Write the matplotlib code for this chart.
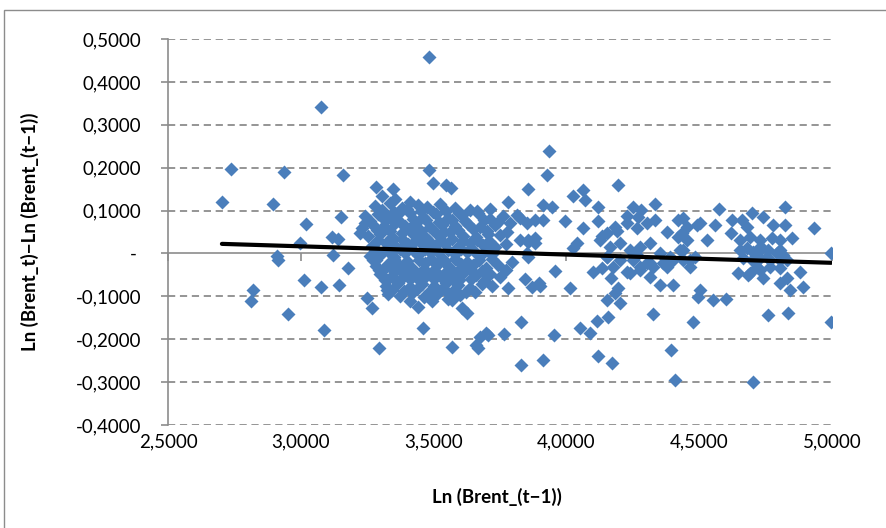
import numpy as np
import matplotlib
matplotlib.use("Agg")
import matplotlib.pyplot as plt
from matplotlib.ticker import FuncFormatter, FixedLocator
from matplotlib.patches import Rectangle

plt.rcParams['font.family'] = ['Lato', 'DejaVu Sans']

# isolated points, left part of the cloud
left_x = [2.703, 2.737, 2.897, 2.937, 3.076, 3.159, 3.020, 3.152,
          2.997, 3.118, 3.140, 2.909, 2.915, 3.123, 3.178, 3.012,
          3.075, 3.145, 2.821, 2.813, 2.951, 3.089, 3.248, 3.267,
          3.296, 3.242, 3.283, 3.298, 3.223, 3.272, 3.295, 3.325,
          3.325, 3.347]
left_y = [0.119, 0.196, 0.116, 0.191, 0.341, 0.183, 0.069, 0.086,
          0.024, 0.038, 0.034, -0.007, -0.016, -0.004, -0.035, -0.063,
          -0.078, -0.073, -0.085, -0.112, -0.141, -0.178, -0.104, -0.128,
          -0.220, 0.071, 0.155, 0.090, 0.048, -0.015, -0.038, -0.062,
          -0.085, 0.150]

# upper edge
top_x = [3.484, 3.483, 3.498, 3.547, 3.566, 3.933, 3.927, 3.856,
         3.781, 3.913, 3.945, 4.025, 4.063, 4.070, 4.119, 4.195,
         4.251, 4.281, 4.334, 4.575, 4.824, 4.933, 4.997]
top_y = [0.457, 0.195, 0.164, 0.160, 0.152, 0.240, 0.183, 0.150,
         0.120, 0.113, 0.108, 0.134, 0.148, 0.125, 0.108, 0.159,
         0.108, 0.101, 0.115, 0.104, 0.108, 0.060, 0.002]

# lower edge
low_x = [3.460, 3.442, 3.570, 3.668, 3.675, 3.705, 3.766, 3.828,
         3.828, 3.911, 3.952, 4.052, 4.089, 4.116, 4.119, 4.172,
         4.394, 4.409, 4.703, 4.997, 4.477, 4.760, 4.835, 4.327,
         4.157, 4.202, 4.153, 3.626, 3.607, 3.570, 3.698, 3.660,
         3.781, 3.845, 3.871, 3.896, 4.014, 3.957, 3.796, 4.101,
         4.134, 4.168, 4.183, 4.195, 4.315, 4.353, 4.402, 4.240,
         4.278, 4.315, 4.504, 4.553, 4.602, 4.496, 4.805, 4.842,
         4.891, 4.880]
low_y = [-0.174, -0.125, -0.217, -0.220, -0.195, -0.190, -0.188, -0.161,
         -0.260, -0.248, -0.191, -0.174, -0.186, -0.157, -0.239, -0.255,
         -0.225, -0.295, -0.300, -0.159, -0.159, -0.143, -0.139, -0.141,
         -0.148, -0.115, -0.108, -0.139, -0.127, -0.108, -0.186, -0.213,
         -0.081, -0.059, -0.078, -0.069, -0.081, -0.040, -0.020, -0.043,
         -0.033, -0.057, -0.092, -0.080, -0.054, -0.073, -0.073, -0.045,
         -0.031, -0.022, -0.085, -0.108, -0.106, -0.101, -0.069, -0.085,
         -0.078, -0.043]

# dense block around 3.3 - 3.9
mid_x = [3.306, 3.355, 3.411,
         3.280, 3.336, 3.381, 3.442, 3.476, 3.524, 3.581, 3.637, 3.713,
         3.242, 3.291, 3.329, 3.366, 3.411, 3.460, 3.509, 3.555, 3.607, 3.668, 3.713, 3.762, 3.815,
         3.231, 3.268, 3.314, 3.355, 3.393, 3.434, 3.487, 3.532, 3.581, 3.630, 3.675, 3.732, 3.788, 3.852,
         3.253, 3.298, 3.344, 3.381, 3.427, 3.472, 3.517, 3.562, 3.611, 3.660, 3.705, 3.750, 3.826, 3.882,
         3.268, 3.321, 3.359, 3.404, 3.449, 3.498, 3.543, 3.589, 3.637, 3.686, 3.732, 3.773, 3.856,
         3.261, 3.306, 3.351, 3.393, 3.442, 3.487, 3.532, 3.581, 3.626, 3.675, 3.720, 3.856,
         3.283, 3.329, 3.374, 3.419, 3.468, 3.513, 3.558, 3.604, 3.649, 3.698, 3.743, 3.773,
         3.298, 3.344, 3.389, 3.434, 3.479, 3.524, 3.570, 3.615, 3.660, 3.713, 3.750,
         3.321, 3.366, 3.411, 3.457, 3.502, 3.547, 3.593, 3.637, 3.683, 3.720,
         3.329, 3.374, 3.419, 3.464, 3.509, 3.555, 3.600, 3.656,
         3.411, 3.494, 3.555,
         3.826, 3.882, 3.913, 3.777, 3.856, 3.901, 3.852, 3.882, 3.995, 4.040, 4.063, 4.119]
mid_y = [0.133, 0.127, 0.120,
         0.110, 0.118, 0.105, 0.112, 0.108, 0.115, 0.106, 0.102, 0.104,
         0.088, 0.093, 0.084, 0.091, 0.095, 0.086, 0.092, 0.083, 0.089, 0.094, 0.081, 0.087, 0.090,
         0.060, 0.068, 0.063, 0.070, 0.065, 0.072, 0.061, 0.067, 0.064, 0.069, 0.062, 0.066, 0.071, 0.070,
         0.040, 0.045, 0.038, 0.047, 0.042, 0.036, 0.044, 0.049, 0.041, 0.039, 0.046, 0.043, 0.031, 0.036,
         0.018, 0.024, 0.015, 0.021, 0.026, 0.017, 0.022, 0.013, 0.025, 0.019, 0.016, 0.023, 0.027,
         -0.005, 0.002, -0.008, 0.000, -0.004, 0.004, -0.010, -0.001, 0.003, -0.006, -0.002, -0.008,
         -0.030, -0.024, -0.029, -0.033, -0.022, -0.027, -0.031, -0.025, -0.028, -0.035, -0.026, -0.038,
         -0.047, -0.053, -0.049, -0.055, -0.046, -0.052, -0.058, -0.044, -0.051, -0.048, -0.054,
         -0.075, -0.070, -0.078, -0.072, -0.076, -0.069, -0.074, -0.080, -0.071, -0.077,
         -0.094, -0.099, -0.092, -0.101, -0.096, -0.093, -0.098, -0.090,
         -0.110, -0.112, -0.106,
         0.083, 0.078, 0.078, 0.050, 0.031, -0.076, 0.001, 0.024, 0.076, 0.024, 0.059, 0.076]

# core of the dense block, between the rows above
core_x = [3.304, 3.352, 3.398, 3.452, 3.497, 3.548, 3.596, 3.662,
          3.262, 3.318, 3.372, 3.421, 3.471, 3.520, 3.569, 3.619, 3.690, 3.742,
          3.286, 3.336, 3.408, 3.452, 3.495, 3.540, 3.592, 3.648, 3.700,
          3.290, 3.340, 3.382, 3.430, 3.478, 3.524, 3.570, 3.612, 3.664, 3.710,
          3.285, 3.330, 3.372, 3.422, 3.466, 3.512, 3.556, 3.604, 3.652, 3.700,
          3.282, 3.352, 3.398, 3.444, 3.490, 3.538, 3.580, 3.625, 3.672, 3.720,
          3.310, 3.352, 3.398, 3.455, 3.500, 3.545, 3.590, 3.636, 3.684,
          3.318, 3.368, 3.412, 3.458, 3.502, 3.548, 3.594, 3.640, 3.690,
          3.345, 3.390, 3.438, 3.485, 3.530, 3.578, 3.622]
core_y = [0.101, 0.097, 0.103, 0.099, 0.096, 0.100, 0.094, 0.098,
          0.076, 0.079, 0.074, 0.080, 0.077, 0.073, 0.078, 0.075, 0.079, 0.074,
          0.055, 0.052, 0.056, 0.053, 0.057, 0.051, 0.054, 0.056, 0.052,
          0.031, 0.029, 0.033, 0.028, 0.032, 0.030, 0.034, 0.029, 0.031, 0.028,
          0.009, 0.006, 0.010, 0.007, 0.011, 0.005, 0.008, 0.010, 0.006, 0.009,
          -0.016, -0.013, -0.018, -0.015, -0.012, -0.017, -0.014, -0.019, -0.016, -0.013,
          -0.039, -0.042, -0.037, -0.041, -0.038, -0.043, -0.040, -0.036, -0.041,
          -0.061, -0.064, -0.060, -0.063, -0.059, -0.065, -0.062, -0.060, -0.064,
          -0.085, -0.088, -0.084, -0.087, -0.083, -0.086, -0.089]

# right part of the cloud (4.0 - 4.9)
right_x = [4.153, 4.183, 4.229, 4.266, 4.304, 4.334, 4.379, 4.421,
           4.455, 4.492, 4.530, 4.560, 4.620, 4.662, 4.699, 4.741,
           4.778, 4.824, 4.850, 4.025, 4.134, 4.270, 4.191, 4.229,
           4.127, 4.165, 4.202, 4.240, 4.278, 4.315, 4.353, 4.391,
           4.428, 4.466, 4.327, 4.379, 4.278, 4.229, 4.176, 4.153,
           4.440, 4.421, 4.202, 4.251, 4.304, 4.364, 4.402, 4.266,
           4.436, 4.455, 4.440, 4.504, 4.624, 4.681, 4.655, 4.692,
           4.729, 4.775, 4.805, 4.655, 4.681, 4.703, 4.737, 4.760,
           4.793, 4.816, 4.666, 4.699, 4.729, 4.767, 4.805, 4.440,
           4.466, 4.485, 4.647, 4.692, 4.741, 4.718, 4.767, 4.831,
           4.805, 4.718, 4.756, 4.805, 4.831, 4.729, 4.684, 4.153]
right_y = [0.048, 0.062, 0.071, 0.059, 0.071, 0.078, 0.050, 0.078,
           0.062, 0.066, 0.031, 0.066, 0.048, 0.078, 0.094, 0.085,
           0.066, 0.066, 0.036, 0.012, 0.040, 0.085, 0.052, 0.087,
           0.031, 0.015, 0.024, 0.008, 0.015, 0.024, 0.001, -0.008,
           0.008, -0.015, -0.031, -0.031, -0.038, -0.043, -0.031, -0.008,
           0.008, 0.038, -0.015, -0.015, -0.022, -0.022, -0.015, -0.003,
           0.048, 0.031, 0.083, 0.071, 0.078, 0.062, 0.031, 0.038,
           0.031, 0.036, 0.031, 0.008, 0.013, 0.003, 0.013, 0.008,
           0.001, -0.003, -0.010, -0.015, -0.010, -0.015, -0.015, -0.015,
           -0.031, -0.008, -0.045, -0.045, -0.057, -0.031, -0.031, -0.057,
           -0.034, 0.008, -0.008, 0.008, -0.015, -0.038, -0.050, -0.008]

x_ticks = [2.5, 3.0, 3.5, 4.0, 4.5, 5.0]
y_ticks = [-0.4, -0.3, -0.2, -0.1, 0.0, 0.1, 0.2, 0.3, 0.4, 0.5]

x = np.array(left_x + top_x + low_x + mid_x + core_x + right_x)
y = np.array(left_y + top_y + low_y + mid_y + core_y + right_y)

fig = plt.figure(figsize=(8.87, 5.28), dpi=100)
ax = fig.add_axes([168 / 887, 1 - 425 / 528, (832 - 168) / 887, (425 - 39) / 528])

# chart frame (cut by the picture on the right and bottom)
fig.patches.append(Rectangle((4 / 887, -0.05), 1.2, 1 - 10 / 528 + 0.05,
                             transform=fig.transFigure, fill=False,
                             edgecolor='#8c8c8c', linewidth=1.0))

grid_c = '#8c8c8c'
for v in y_ticks:
    if v != 0.0:
        ax.axhline(v, color=grid_c, lw=1.3, ls=(0, (4.0, 2.6)), zorder=1)

ax.plot(x, y, 'D', ms=7.6, color='#4A7EBB', mec='none', zorder=3)

# linear trend line
coef = np.polyfit(x, y, 1)
tx = np.array([x.min(), x.max()])
ax.plot(tx, np.polyval(coef, tx), color='black', lw=3.0, solid_capstyle='round', zorder=4)

ax.set_xlim(2.5, 5.0)
ax.set_ylim(-0.4, 0.5)

for s in ['top', 'right']:
    ax.spines[s].set_visible(False)
ax.spines['left'].set_color(grid_c)
ax.spines['left'].set_linewidth(1.2)
ax.spines['bottom'].set_position(('data', 0))
ax.spines['bottom'].set_color(grid_c)
ax.spines['bottom'].set_linewidth(1.2)
ax.spines['bottom'].set_zorder(2)

ax.xaxis.set_major_locator(FixedLocator(x_ticks))
ax.yaxis.set_major_locator(FixedLocator(y_ticks))
ax.tick_params(axis='x', direction='out', length=6, width=1.2, color=grid_c, labelbottom=False)
ax.tick_params(axis='y', direction='out', length=5, width=1.2, color=grid_c, pad=14, labelsize=13.5)


def yfmt(v, pos):
    if abs(v) < 1e-9:
        return '- '
    return f"{v:.4f}".replace('.', ',')


ax.yaxis.set_major_formatter(FuncFormatter(yfmt))

sec = ax.secondary_xaxis('bottom')
sec.xaxis.set_major_locator(FixedLocator(x_ticks))
sec.xaxis.set_major_formatter(FuncFormatter(lambda v, p: f"{v:.4f}".replace('.', ',')))
sec.tick_params(length=0, pad=6, labelsize=13.5)
sec.spines['bottom'].set_visible(False)

fig.text(497 / 887, 1 - 497 / 528, 'Ln (Brent_(t\u22121))', ha='center', va='center',
         fontsize=13.5, fontweight='bold')
fig.text(30 / 887, 1 - 232 / 528, 'Ln (Brent_t)\u2212Ln (Brent_(t\u22121))', ha='center', va='center',
         rotation=90, fontsize=13.5, fontweight='bold')

fig.savefig('out.png', dpi=100)
